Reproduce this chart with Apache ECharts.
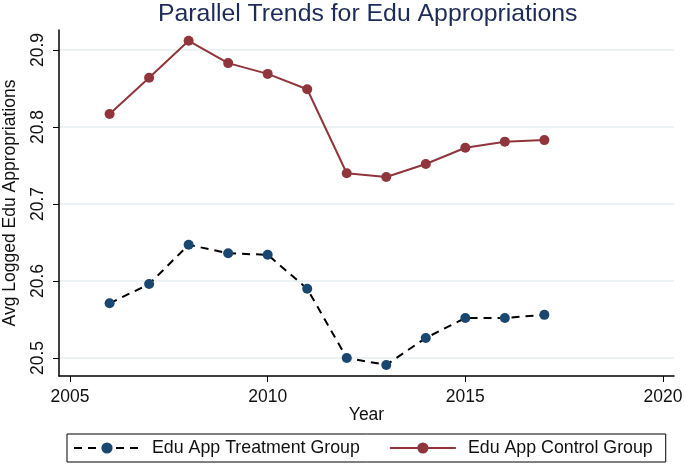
<!DOCTYPE html>
<html><head><meta charset="utf-8">
<script src="https://cdn.jsdelivr.net/npm/echarts@6/dist/echarts.min.js"></script>
<style>html,body{margin:0;padding:0;background:#fff}#c{width:685px;height:468px}</style>
</head><body><div id="c"></div>
<script>
const years = [2006,2007,2008,2009,2010,2011,2012,2013,2014,2015,2016,2017];
const treatment = [20.571,20.596,20.647,20.636,20.634,20.590,20.500,20.491,20.526,20.552,20.552,20.556];
const control = [20.817,20.864,20.912,20.883,20.869,20.849,20.740,20.735,20.752,20.773,20.781,20.783];
const xTicks = [2005,2010,2015,2020];
const yTicks = [20.5,20.6,20.7,20.8,20.9];
const FONT = '"Liberation Sans", Arial, sans-serif';
const chart = echarts.init(document.getElementById('c'), null, {renderer:'canvas'});
chart.setOption({
  animation:false,
  backgroundColor:'#fff',
  title:{text:'Parallel Trends for Edu Appropriations', left:158, top:0, padding:[2,0,0,0],
    textStyle:{fontFamily:FONT, fontSize:24.8, fontWeight:'normal', color:'#1c2b57'}},
  grid:{left:59, right:11, top:30, bottom:92, containLabel:false, outerBoundsMode:'none'},
  xAxis:{type:'value', min:2004.72, max:2020.28, name:'Year', nameLocation:'middle', nameGap:30, nameMoveOverlap:false,
    nameTextStyle:{fontFamily:FONT, fontSize:17.5, color:'#111'},
    axisLine:{show:true, lineStyle:{color:'#000', width:1.5}},
    axisTick:{show:true, length:6, lineStyle:{color:'#000'}, customValues:xTicks},
    axisLabel:{fontFamily:FONT, fontSize:17.5, color:'#111', margin:12, customValues:xTicks, formatter:v=>String(v)},
    splitLine:{show:false}},
  yAxis:{type:'value', min:20.4766, max:20.926, name:'Avg Logged Edu Appropriations', nameLocation:'middle', nameGap:40, nameMoveOverlap:false,
    nameTextStyle:{fontFamily:FONT, fontSize:17.5, color:'#111'},
    axisLine:{show:true, lineStyle:{color:'#000', width:1.5}},
    axisTick:{show:true, length:6, lineStyle:{color:'#000'}, customValues:yTicks},
    axisLabel:{fontFamily:FONT, fontSize:17.5, color:'#111', rotate:90, margin:12, customValues:yTicks, formatter:v=>v.toFixed(1)},
    splitLine:{show:true, lineStyle:{color:'#e6eff1', width:1.5}}},
  legend:{left:67, top:434, orient:'horizontal', borderColor:'#000', borderWidth:1, padding:[5,13,5,6],
    itemWidth:66, itemHeight:14, itemGap:29,
    textStyle:{fontFamily:FONT, fontSize:17.8, color:'#111', padding:[0,0,0,7]},
    data:['Edu App Treatment Group','Edu App Control Group']},
  series:[
    {name:'Edu App Treatment Group', type:'line', data:years.map((y,i)=>[y,treatment[i]]),
      symbol:'circle', symbolSize:10, itemStyle:{color:'#1a476f'},
      lineStyle:{color:'#000', width:2, type:[8,6]}},
    {name:'Edu App Control Group', type:'line', data:years.map((y,i)=>[y,control[i]]),
      symbol:'circle', symbolSize:10, itemStyle:{color:'#90353b'},
      lineStyle:{color:'#90353b', width:2}}
  ]
});
</script></body></html>
